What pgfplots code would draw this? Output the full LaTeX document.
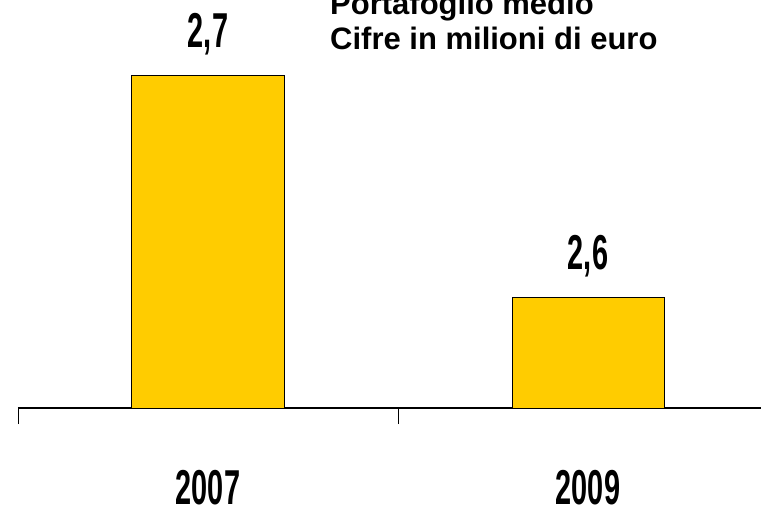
\documentclass[border=0pt]{standalone}
\usepackage{pgfplots}
\pgfplotsset{compat=1.18}
\usepackage{fontspec}
\setmainfont{Liberation Sans}
\newfontfamily\narrowfont[FakeStretch=0.59]{Liberation Sans}
\definecolor{baryellow}{RGB}{255,204,0}
\begin{document}
\begin{tikzpicture}[x=1pt,y=1pt]
\useasboundingbox (-18,-96) rectangle (743,408);
\clip (-18,-96) rectangle (743,408);
\begin{axis}[
  at={(0pt,0pt)}, anchor=south west,
  scale only axis, width=760pt, height=444pt,
  xmin=0, xmax=2, ymin=2.55, ymax=2.75,
  axis x line=bottom, axis y line=none,
  axis line style={-, black, line width=1.2pt},
  xtick={0.5,1.5}, xticklabels={2007,2009},
  major tick length=0pt,
  xticklabel style={font=\narrowfont\bfseries\fontsize{49}{50}\selectfont, anchor=base, yshift=-96pt},
  extra x ticks={0,1,2}, extra x tick labels={},
  extra x tick style={major tick length=16pt, tick align=outside, tick style={black, line width=0.8pt}},
  ybar, bar width=152pt, bar shift=0pt,
  nodes near coords, point meta=explicit symbolic,
  every node near coord/.append style={font=\narrowfont\bfseries\fontsize{49}{50}\selectfont, anchor=base, yshift=28pt},
]
\addplot[fill=baryellow, draw=black, line width=1pt] coordinates {(0.5,2.7) [2,7] (1.5,2.6) [2,6]};
\end{axis}
\node[anchor=base west, inner sep=0pt, font=\bfseries\fontsize{31}{37}\selectfont] at (312,393) {Portafoglio medio};
\node[anchor=base west, inner sep=0pt, font=\bfseries\fontsize{31}{37}\selectfont] at (312,358) {Cifre in milioni di euro};
\end{tikzpicture}
\end{document}
